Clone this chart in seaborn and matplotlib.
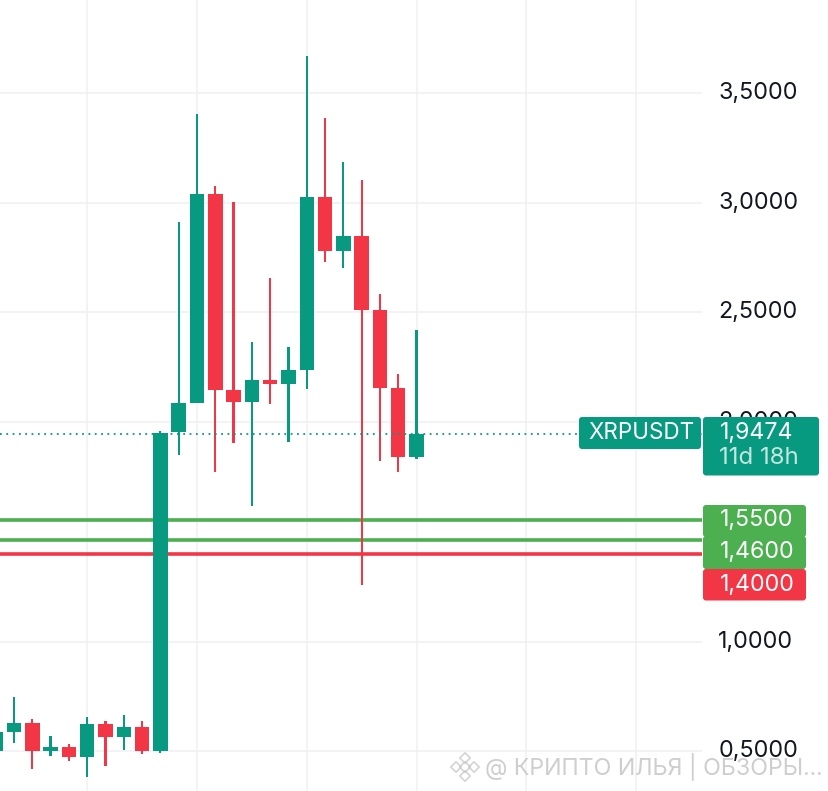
import numpy as np
import seaborn as sns
import matplotlib.pyplot as plt
from matplotlib.patches import FancyBboxPatch
from matplotlib.transforms import ScaledTranslation

# candles, one entry per period
candle_idx = list(range(24))
opens = [0.503, 0.589, 0.630, 0.500, 0.519, 0.474, 0.624, 0.565, 0.612, 0.500,
         1.956, 2.085, 3.039, 2.146, 2.091, 2.191, 2.174, 2.237, 3.025, 2.778,
         2.849, 2.512, 2.156, 1.841]
closes = [0.589, 0.630, 0.500, 0.519, 0.474, 0.624, 0.565, 0.612, 0.500, 1.951,
          2.085, 3.039, 2.146, 2.091, 2.191, 2.173, 2.237, 3.025, 2.778, 2.849,
          2.512, 2.156, 1.841, 1.9474]
highs = [0.589, 0.746, 0.646, 0.569, 0.533, 0.657, 0.636, 0.665, 0.636, 1.960,
         2.913, 3.403, 3.077, 3.001, 2.366, 2.657, 2.340, 3.666, 3.384, 3.186,
         3.101, 2.583, 2.220, 2.419]
lows = [0.503, 0.539, 0.418, 0.478, 0.454, 0.384, 0.433, 0.506, 0.487, 0.493,
        1.850, 2.085, 1.774, 1.903, 1.617, 2.082, 1.910, 2.149, 2.730, 2.702,
        1.257, 1.824, 1.774, 1.830]

y_ticks = [0.5, 1.0, 2.0, 2.5, 3.0, 3.5]
y_labels = ["0,5000", "1,0000", "2,0000", "2,5000", "3,0000", "3,5000"]
x_grid = [5, 11, 17, 23, 29, 35]

last_price = 1.9474
green_levels = [1.553, 1.462]
red_levels = [1.40]

UP = "#089981"
DOWN = "#F23645"
LEVEL_GREEN = "#4CAF50"
FONT = "Inter"

sns.set_style("white")
plt.rcParams["font.family"] = FONT

fig = plt.figure(figsize=(8.29, 7.91), dpi=100)
ax = fig.add_axes([0, 0, 702 / 829, 1])


def draw_bars(idx, bottom, top, width, color):
    # floating bars, used for both candle bodies and wicks
    idx = np.array(idx)
    bottom = np.array(bottom)
    top = np.array(top)
    sns.barplot(x=idx, y=top - bottom, bottom=bottom, native_scale=True,
                width=width, color=color, saturation=1, linewidth=0, ax=ax,
                zorder=3)


for is_up, color in [(True, UP), (False, DOWN)]:
    sel = [i for i in candle_idx if (closes[i] >= opens[i]) == is_up]
    draw_bars(sel, [lows[i] for i in sel], [highs[i] for i in sel], 0.12, color)
    draw_bars(sel, [min(opens[i], closes[i]) for i in sel],
              [max(opens[i], closes[i]) for i in sel], 0.79, color)

# levels sit under the candles, the dotted last price on top of them
for lvl in green_levels:
    ax.axhline(lvl, color=LEVEL_GREEN, lw=2.6, zorder=2)
for lvl in red_levels:
    ax.axhline(lvl, color=DOWN, lw=2.6, zorder=2)
ax.axhline(last_price, color=UP, lw=1.3, ls=(0, (1, 2.5)), zorder=5)

ax.set_xlim(0.235, 38.6)
ax.set_ylim(0.319, 3.9226)
ax.set_xticks(x_grid)
ax.set_xticklabels([])
ax.set_yticks(y_ticks)
ax.set_yticklabels(y_labels)
ax.yaxis.tick_right()
ax.tick_params(axis="y", length=0, pad=11.8, labelsize=16.8, labelcolor="#131722")
ax.tick_params(axis="x", length=0)
ax.set_xlabel("")
ax.set_ylabel("")
ax.grid(True, color="#F0F0F3", lw=1.1)
ax.set_axisbelow(True)
sns.despine(ax=ax, left=True, bottom=True, right=True, top=True)

# the labels sit a little above their gridlines
for lab in ax.get_yticklabels():
    lab.set_transform(lab.get_transform() + ScaledTranslation(0, 2.5 / 100, fig.dpi_scale_trans))

# overlay in pixel coordinates for the price tags and the watermark
ov = fig.add_axes([0, 0, 1, 1])
ov.set_xlim(0, 829)
ov.set_ylim(791, 0)
ov.axis("off")


def tag(x0, y0, x1, y1, color):
    ov.add_patch(FancyBboxPatch((x0, y0), x1 - x0, y1 - y0, facecolor=color,
                                edgecolor="none",
                                boxstyle="round,pad=0,rounding_size=3"))


tag(579, 417, 701, 449, UP)
tag(703, 417, 819, 475.5, UP)
tag(703, 505, 806, 537, LEVEL_GREEN)
tag(703, 536, 806, 569, LEVEL_GREEN)
tag(703, 569, 806, 600.5, DOWN)

ov.text(588, 433, "XRPUSDT", color="white", fontsize=16.2, va="center")
ov.text(719.5, 433, "1,9474", color="white", fontsize=16.7, va="center")
ov.text(719.5, 458, "11d 18h", color="#C4E6DF", fontsize=17.2, va="center")
ov.text(719.5, 520.5, "1,5500", color="white", fontsize=16.7, va="center")
ov.text(719.5, 552.5, "1,4600", color="white", fontsize=16.7, va="center")
ov.text(719.5, 585, "1,4000", color="white", fontsize=16.7, va="center")

# watermark
wm = "#C9C9CC"
ov.scatter([465, 465, 456, 474, 465], [758, 776, 767, 767, 767], marker="D",
           s=[28, 28, 28, 28, 30], facecolor="none", edgecolor=wm, lw=1.2, alpha=0.8)
ov.text(485, 767, "@ КРИПТО ИЛЬЯ | ОБЗОРЫ...", color=wm, fontsize=16.7, va="center",
        alpha=0.9)

fig.savefig("out.png", dpi=100)
